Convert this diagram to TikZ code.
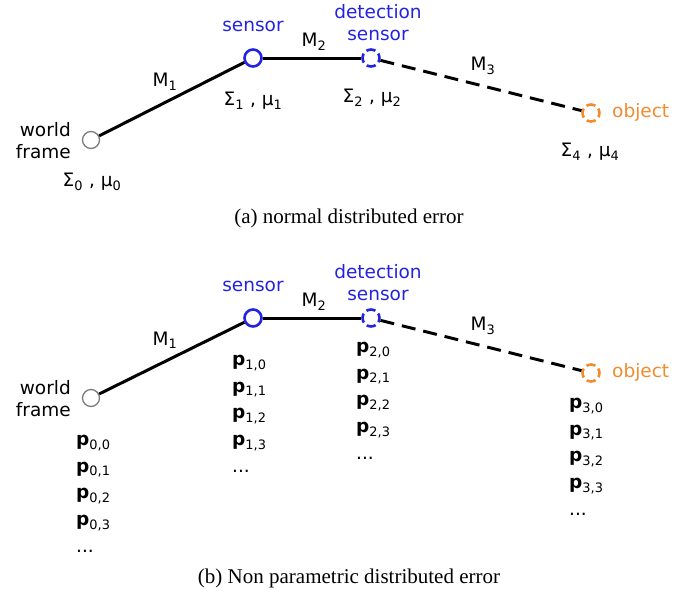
\documentclass[tikz,border=0pt]{standalone}
\usepackage{fontspec}
\setmainfont{Liberation Serif}
\newfontfamily\lblfont{DejaVu Sans}
\definecolor{sensorblue}{RGB}{35,35,225}
\definecolor{objorange}{RGB}{240,140,45}
\definecolor{worldgray}{RGB}{125,125,125}

\begin{document}
\begin{tikzpicture}[
        x=1pt, y=-1pt,
        lbl/.style={font=\lblfont\fontsize{18.5}{22}\selectfont, inner sep=0pt},
        plist/.style={lbl, font=\lblfont\fontsize{18.5}{26.7}\selectfont, anchor=north west, align=left},
        captxt/.style={font=\fontsize{21}{25}\selectfont, inner sep=0pt},
        worldpt/.style={circle, draw=worldgray, line width=1.3pt, minimum size=17pt, inner sep=0pt},
        sensorpt/.style={circle, draw=sensorblue, line width=2.6pt, minimum size=17pt, inner sep=0pt},
        detpt/.style={sensorpt, dash pattern=on 9.3pt off 4.05pt, dash phase=4.65pt},
        objpt/.style={detpt, draw=objorange},
        link/.style={line width=3pt},
        dlink/.style={link, dash pattern=on 14pt off 8pt}
    ]
        \useasboundingbox (0,0) rectangle (699,597);

        % (a) normal distributed error
        \node[worldpt]  (wA) at (91,140)  {};
        \node[sensorpt] (sA) at (253,58)  {};
        \node[detpt]    (dA) at (371,58)  {};
        \node[objpt]    (oA) at (591,113) {};

        \draw[link]  (wA) -- (sA);
        \draw[link]  (sA) -- (dA);
        \draw[dlink] (dA) -- (oA);

        \node[lbl, anchor=east, align=right] (wlA) at (71,141) {world\\frame};
        \node[lbl, text=sensorblue] (slA) at (253,26) {sensor};
        \node[lbl, text=sensorblue, align=center] (dlA) at (378,23) {detection\\sensor};
        \node[lbl, text=objorange, anchor=west] (olA) at (612,112) {object};
        \node[lbl] (m1A) at (165,82) {M\textsubscript{1}};
        \node[lbl] (m2A) at (314,42) {M\textsubscript{2}};
        \node[lbl] (m3A) at (483,66) {M\textsubscript{3}};
        \node[lbl] (e0A) at (92,182)  {Σ\textsubscript{0} , μ\textsubscript{0}};
        \node[lbl] (e1A) at (253,101) {Σ\textsubscript{1} , μ\textsubscript{1}};
        \node[lbl] (e2A) at (372,98)  {Σ\textsubscript{2} , μ\textsubscript{2}};
        \node[lbl] (e4A) at (590,152) {Σ\textsubscript{4} , μ\textsubscript{4}};

        \node[captxt] (capA) at (349,218) {(a) normal distributed error};

        % (b) Non parametric distributed error
        \node[worldpt]  (wB) at (91,398)  {};
        \node[sensorpt] (sB) at (253,318) {};
        \node[detpt]    (dB) at (371,318) {};
        \node[objpt]    (oB) at (591,373) {};

        \draw[link]  (wB) -- (sB);
        \draw[link]  (sB) -- (dB);
        \draw[dlink] (dB) -- (oB);

        \node[lbl, anchor=east, align=right] (wlB) at (71,399) {world\\frame};
        \node[lbl, text=sensorblue] (slB) at (253,286) {sensor};
        \node[lbl, text=sensorblue, align=center] (dlB) at (378,283) {detection\\sensor};
        \node[lbl, text=objorange, anchor=west] (olB) at (612,372) {object};
        \node[lbl] (m1B) at (165,340) {M\textsubscript{1}};
        \node[lbl] (m2B) at (314,302) {M\textsubscript{2}};
        \node[lbl] (m3B) at (483,326) {M\textsubscript{3}};

        \node[plist] (p0B) at (76,435)
            {\textbf{p}\textsubscript{0,0}\\\textbf{p}\textsubscript{0,1}\\\textbf{p}\textsubscript{0,2}\\\textbf{p}\textsubscript{0,3}\\...};
        \node[plist] (p1B) at (232,355)
            {\textbf{p}\textsubscript{1,0}\\\textbf{p}\textsubscript{1,1}\\\textbf{p}\textsubscript{1,2}\\\textbf{p}\textsubscript{1,3}\\...};
        \node[plist] (p2B) at (356,342)
            {\textbf{p}\textsubscript{2,0}\\\textbf{p}\textsubscript{2,1}\\\textbf{p}\textsubscript{2,2}\\\textbf{p}\textsubscript{2,3}\\...};
        \node[plist] (p3B) at (569,398)
            {\textbf{p}\textsubscript{3,0}\\\textbf{p}\textsubscript{3,1}\\\textbf{p}\textsubscript{3,2}\\\textbf{p}\textsubscript{3,3}\\...};

        \node[captxt] (capB) at (349,578) {(b) Non parametric distributed error};
    \end{tikzpicture}
\end{document}
